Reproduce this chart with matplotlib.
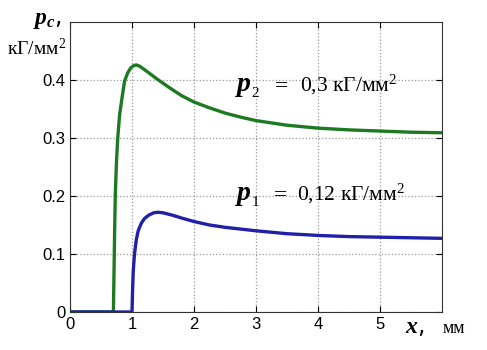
import matplotlib
matplotlib.use("Agg")
import matplotlib.pyplot as plt

# кривые давления p_c(x)
x_p2 = [0, 0.70, 0.71, 0.72, 0.73, 0.75, 0.77, 0.80, 0.84, 0.88, 0.93, 0.98, 1.03, 1.07,
        1.12, 1.2, 1.4, 1.6, 1.8, 2.0, 2.25, 2.5, 2.75, 3.0, 3.5, 4.0, 4.5, 5.0, 5.5, 6.0]
y_p2 = [0, 0, 0.07, 0.14, 0.20, 0.26, 0.30, 0.34, 0.37, 0.398, 0.412, 0.421, 0.425, 0.426,
        0.424, 0.418, 0.402, 0.387, 0.373, 0.362, 0.352, 0.343, 0.336, 0.330, 0.322, 0.317,
        0.314, 0.312, 0.310, 0.309]

x_p1 = [0, 1.0, 1.01, 1.02, 1.04, 1.07, 1.1, 1.15, 1.2, 1.27, 1.35, 1.42, 1.5, 1.65, 1.8,
        2.0, 2.25, 2.5, 2.75, 3.0, 3.5, 4.0, 4.5, 5.0, 5.5, 6.0]
y_p1 = [0, 0, 0.04, 0.07, 0.10, 0.125, 0.14, 0.153, 0.161, 0.167, 0.171, 0.172, 0.171, 0.167,
        0.162, 0.156, 0.150, 0.146, 0.143, 0.140, 0.135, 0.132, 0.130, 0.129, 0.128, 0.127]

x_ticks = [0, 1, 2, 3, 4, 5]
y_ticks = [0, 0.1, 0.2, 0.3, 0.4]
y_tick_labels = ["0", "0.1", "0.2", "0.3", "0.4"]

plt.rcParams['mathtext.fontset'] = 'custom'
plt.rcParams['mathtext.rm'] = 'Liberation Serif'
plt.rcParams['mathtext.it'] = 'Liberation Serif:italic:bold'

fig = plt.figure(figsize=(4.87, 3.5), dpi=100)
ax = fig.add_axes([70 / 487, 38 / 350, 372 / 487, 290 / 350])

ax.plot(x_p2, y_p2, color="#1e7a22", lw=2.4)
ax.plot(x_p1, y_p1, color="#2020a8", lw=2.4)

ax.set_xlim(0, 6)
ax.set_ylim(0, 0.5)
ax.set_xticks(x_ticks)
ax.set_yticks(y_ticks)
ax.set_yticklabels(y_tick_labels)
ax.tick_params(direction="in", top=True, right=True, labelsize=12, length=4)
for lab in ax.get_xticklabels() + ax.get_yticklabels():
    lab.set_family("Liberation Sans")
ax.grid(True, linestyle=":", color="#999999", lw=0.9)
for s in ax.spines.values():
    s.set_color("#333333")

# подписи кривых
ax.text(2.66, 0.381, r"$p$", fontsize=20)
ax.text(2.93, 0.371, "2", fontsize=11, family="Liberation Serif")
ax.text(3.24, 0.381, r"$=$", fontsize=17)
ax.text(3.71, 0.381, "0,3 кГ/мм$^2$", fontsize=15.5, family="Liberation Serif")
ax.text(2.66, 0.193, r"$p$", fontsize=20)
ax.text(2.93, 0.183, "1", fontsize=11, family="Liberation Serif")
ax.text(3.23, 0.193, r"$=$", fontsize=17)
ax.text(3.66, 0.193, "0,12 кГ/мм$^2$", fontsize=15.5, family="Liberation Serif")

# подписи осей
fig.text(33 / 487, 1 - 24 / 350, r"$p_{c}$,", fontsize=17)
fig.text(66 / 487, 1 - 55 / 350, "кГ/мм$^2$", fontsize=14, family="Liberation Serif",
         ha="right")
fig.text(405 / 487, 1 - 333 / 350, r"$x$,", fontsize=17)
fig.text(443 / 487, 1 - 333 / 350, "мм", fontsize=13, family="Liberation Serif")

fig.savefig("out.png", dpi=100)
